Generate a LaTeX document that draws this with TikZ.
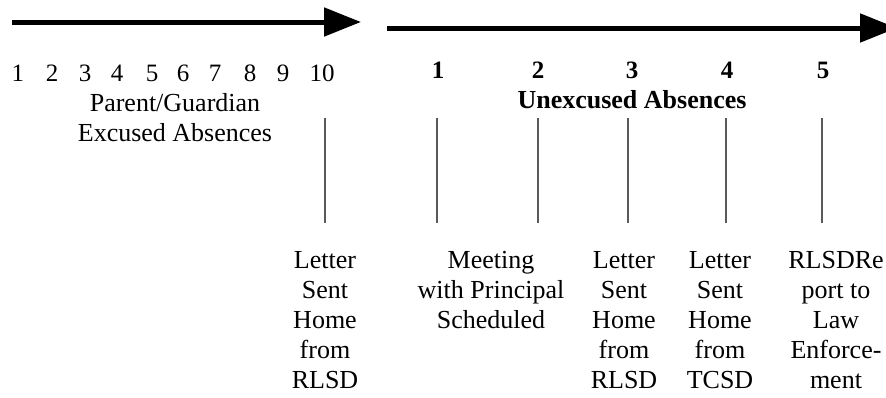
\documentclass[tikz,border=0pt]{standalone}
\usepackage{fontspec}
\setmainfont{Liberation Serif}
\usetikzlibrary{arrows.meta}
\begin{document}
\begin{tikzpicture}[x=1pt,y=-1pt,
  txt/.style={inner sep=0pt, align=center, font=\fontsize{26}{30}\selectfont},
  num/.style={inner sep=0pt, font=\fontsize{25}{30}\selectfont},
  bnum/.style={inner sep=0pt, font=\fontsize{25}{30}\selectfont\bfseries},
  bigarrow/.style={line width=5pt, -{Triangle[length=37pt,width=28pt]}},
  tick/.style={draw=black!65, line width=1.4pt}]
\useasboundingbox (0,0) rectangle (886,397);
\clip (0,0) rectangle (886,397);
% arrows
\coordinate (a1s) at (12,22);
\coordinate (a1e) at (361,22);
\coordinate (a2s) at (387,28);
\coordinate (a2e) at (897,28);
\draw[bigarrow] (a1s) -- (a1e);
\draw[bigarrow] (a2s) -- (a2e);
% excused numbers
\foreach \n/\x in {1/18,2/52,3/85,4/117,5/152,6/183,7/215,8/250,9/283,10/322}
  \node[num] (e\n) at (\x,73) {\n};
\node[txt] (exc) at (175,118) {Parent/Guardian\\Excused Absences};
% unexcused numbers
\foreach \n/\x in {1/438,2/538,3/632,4/727,5/823}
  \node[bnum] (u\n) at (\x,70) {\n};
\node[txt, font=\fontsize{26}{30}\selectfont\bfseries] (unexc) at (632,100) {Unexcused Absences};
% ticks
\foreach \k/\x in {t10/325,t1/437,t2/538,t3/628,t4/726,t5/822} {
  \coordinate (\k a) at (\x,118);
  \coordinate (\k b) at (\x,223);
}
\foreach \k in {t10,t1,t2,t3,t4,t5}
  \draw[tick] (\k a) -- (\k b);
% bottom labels
\node[txt] (l10) at (325,320) {Letter\\Sent\\Home\\from\\RLSD};
\node[txt] (l12) at (491,290) {Meeting\\with Principal\\Scheduled};
\node[txt] (l3) at (624,320) {Letter\\Sent\\Home\\from\\RLSD};
\node[txt] (l4) at (720,320) {Letter\\Sent\\Home\\from\\TCSD};
\node[txt] (l5) at (836,320) {RLSDRe\\port to\\Law\\Enforce-\\ment};
\end{tikzpicture}
\end{document}
